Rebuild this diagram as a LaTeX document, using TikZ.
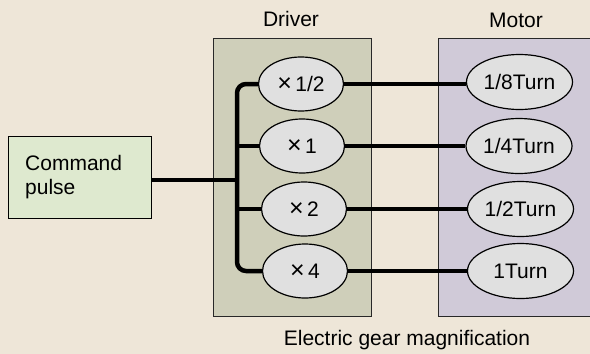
\documentclass[tikz,border=0pt]{standalone}
\usepackage{fontspec}
\setmainfont{Liberation Sans}
\usetikzlibrary{shapes.geometric}
\definecolor{bgc}{RGB}{238,230,216}
\definecolor{cmdc}{RGB}{222,233,207}
\definecolor{drvc}{RGB}{207,207,186}
\definecolor{motc}{RGB}{208,202,216}
\definecolor{elc}{RGB}{224,224,224}
\definecolor{edgec}{RGB}{40,40,40}
\newcommand{\bigtimes}{{\fontsize{25}{24}\selectfont ×}}
\begin{document}
\begin{tikzpicture}[x=1pt,y=-1pt,
  font=\fontsize{21}{24}\selectfont,
  panel/.style={draw=edgec,line width=0.8pt},
  oval/.style={ellipse,draw=black,line width=1.2pt,fill=elc,inner sep=0pt},
  drvoval/.style={oval,minimum width=85pt,minimum height=54pt},
  motoval/.style={oval,minimum width=106pt,minimum height=55pt},
  wire/.style={line width=4.5pt,black}]
\fill[bgc] (0,0) rectangle (590,354);
\useasboundingbox (0,0) rectangle (590,354);
% panels
\node[panel,fill=drvc,minimum width=158pt,minimum height=278pt,anchor=north west,inner sep=0pt] (drv) at (213,38) {};
\node[panel,fill=motc,minimum width=160pt,minimum height=278pt,anchor=north west,inner sep=0pt] (mot) at (438,38) {};
\node (drvlbl) at (291,19) {Driver};
\node (motlbl) at (516,20) {Motor};
\node (gear) at (407,340) {Electric gear magnification};
% command pulse
\node[draw=black,line width=1.2pt,fill=cmdc,minimum width=143pt,minimum height=82pt,anchor=north west,inner sep=0pt] (cmd) at (8,136) {};
\node[align=left,anchor=west,inner sep=0pt] (cmdtxt) at (25,177) {Command\\pulse};
% coordinates
\coordinate (bus) at (237,180);
% ovals
\node[drvoval] (d1) at (301,84) {\bigtimes\,1/2};
\node[drvoval] (d2) at (302,146) {\bigtimes\,1};
\node[drvoval] (d3) at (304,209) {\bigtimes\,2};
\node[drvoval] (d4) at (305,271) {\bigtimes\,4};
\node[motoval] (m1) at (519.5,82) {1/8Turn};
\node[motoval] (m2) at (519,146) {1/4Turn};
\node[motoval] (m3) at (520.5,209) {1/2Turn};
\node[motoval] (m4) at (520.5,271) {1Turn};
% wires
\draw[wire] (cmd.east |- bus) -- (bus);
\draw[wire,rounded corners=9pt] (d1.west) -| (bus) |- (d4.west);
\draw[wire] (bus |- d2.west) -- (d2.west);
\draw[wire] (bus |- d3.west) -- (d3.west);
\draw[wire] (d1.east) -- (m1.west |- d1.east);
\draw[wire] (d2) -- (m2);
\draw[wire] (d3) -- (m3);
\draw[wire] (d4) -- (m4);
\end{tikzpicture}
\end{document}
